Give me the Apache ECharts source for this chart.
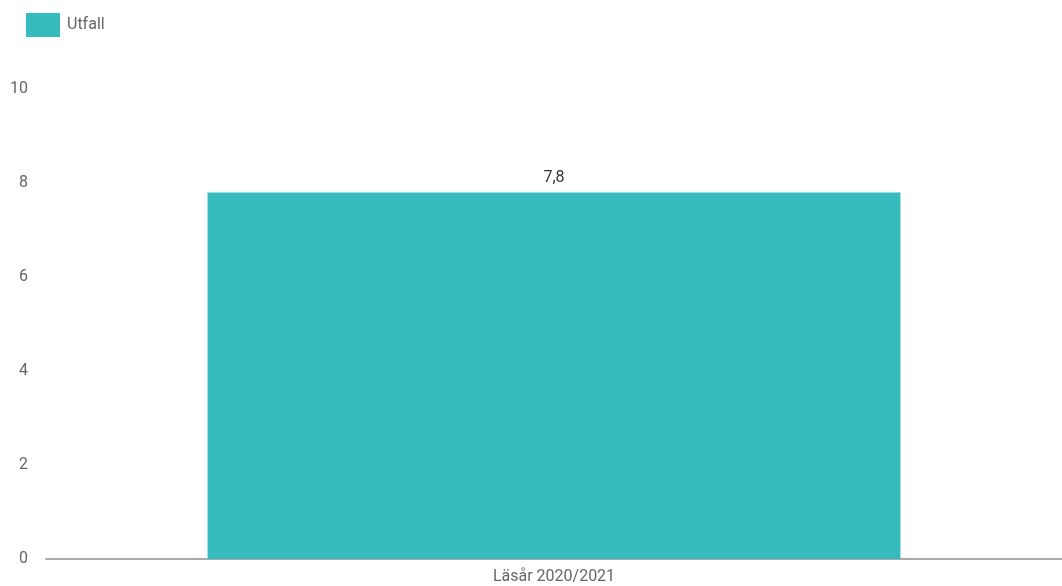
<!DOCTYPE html>
<html><head><meta charset="utf-8">
<script src="https://cdn.jsdelivr.net/npm/echarts@6/dist/echarts.min.js"></script>
<style>html,body{margin:0;padding:0;background:#fff}#c{width:1062px;height:586px}</style>
</head><body><div id="c"></div>
<script>
const categories = ['Läsår 2020/2021'];
const seriesName = 'Utfall';
const values = [7.8];
const yTicks = [0, 2, 4, 6, 8, 10];

const chart = echarts.init(document.getElementById('c'));
chart.setOption({
  animation: false,
  textStyle: { fontFamily: 'Roboto' },
  legend: {
    left: 21, top: 8, itemWidth: 34, itemHeight: 24, itemGap: 10,
    icon: 'rect',
    textStyle: { color: '#666', fontSize: 16, fontFamily: 'Roboto', padding: [0, 0, 0, 2] },
    data: [seriesName]
  },
  grid: { left: 46, right: 0, top: 89, bottom: 27, containLabel: false },
  xAxis: {
    type: 'category', data: categories,
    axisLine: { lineStyle: { color: '#aaa', width: 2 } },
    axisTick: { show: false },
    axisLabel: { color: '#666', fontSize: 16, margin: 10 }
  },
  yAxis: {
    type: 'value', min: yTicks[0], max: yTicks[yTicks.length - 1], interval: 2,
    splitLine: { show: false },
    axisLine: { show: false }, axisTick: { show: false },
    axisLabel: { color: '#666', fontSize: 16, margin: 18,
      formatter: v => String(v).replace('.', ',') }
  },
  series: [{
    name: seriesName, type: 'bar', data: values, barWidth: '68.2%',
    itemStyle: { color: '#37bcbd' },
    label: { show: true, position: 'top', color: '#333', fontSize: 16, distance: 6,
      formatter: p => String(p.value).replace('.', ',') }
  }]
});
</script></body></html>
